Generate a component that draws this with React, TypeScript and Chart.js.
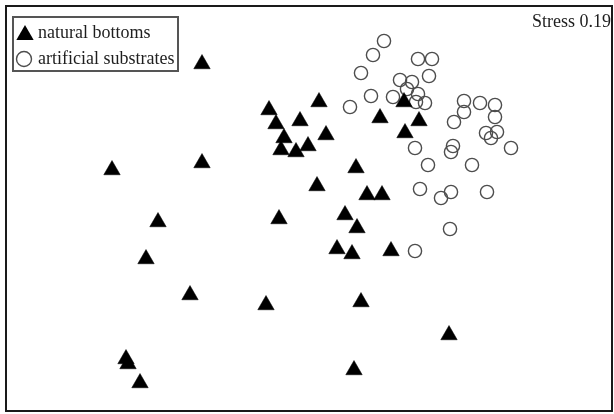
import React, { useEffect, useRef } from 'react';
import { Chart, registerables } from 'chart.js';

Chart.register(...registerables);

// NMDS ordination scores (axis 1 = x, axis 2 = y)
const seriesNames = ['natural bottoms', 'artificial substrates'];
const stressLabel = 'Stress 0.19';

const naturalX = [
  -1.07, 0.10, -0.40, -0.09, -0.33, 0.71, 0.95, 1.10, 0.96, 0.17, -0.25, -0.28,
  -0.13, -0.01, -1.97, -1.07, 0.47, 0.08, 0.58, 0.73, -1.51, -0.30, 0.36, 0.48,
  -1.63, 0.28, 0.43, 0.82, -1.19, -0.43, 0.52, 1.40, -1.83, -1.81, -1.69, 0.45,
];
const naturalY = [
  1.44, 1.06, 0.98, 0.87, 0.84, 0.90, 1.06, 0.87, 0.75, 0.73, 0.70, 0.58,
  0.56, 0.62, 0.38, 0.45, 0.40, 0.22, 0.13, 0.13, -0.14, -0.11, -0.07, -0.20,
  -0.51, -0.41, -0.46, -0.43, -0.87, -0.97, -0.94, -1.27, -1.51, -1.56, -1.75, -1.62,
];

const artificialX = [
  0.75, 0.64, 0.52, 1.09, 1.23, 1.20, 0.91, 1.03, 0.98, 0.62, 0.84, 0.41,
  1.09, 1.07, 1.16, 1.55, 1.71, 1.86, 1.55, 1.45, 1.86, 1.77, 1.88, 1.82,
  2.02, 1.06, 1.44, 1.42, 1.19, 1.63, 1.11, 1.32, 1.42, 1.78, 1.41, 1.06,
];
const artificialY = [
  1.67, 1.53, 1.35, 1.49, 1.49, 1.32, 1.28, 1.26, 1.19, 1.12, 1.11, 1.01,
  1.14, 1.06, 1.05, 1.07, 1.05, 1.03, 0.96, 0.86, 0.91, 0.75, 0.76, 0.70,
  0.60, 0.60, 0.62, 0.56, 0.43, 0.43, 0.19, 0.10, 0.16, 0.16, -0.21, -0.43,
];

const xRange = [-3.03, 3.03];
const yRange = [-2.03, 2.02];

const FONT = '18px "Liberation Serif", "DejaVu Serif", serif';
const TEXT_COLOR = '#1e1e1e';
const CIRCLE_COLOR = '#4d4d4d';

function toPoints(xs: number[], ys: number[]) {
  return xs.map((x, i) => ({ x, y: ys[i] }));
}

function drawTriangle(ctx: CanvasRenderingContext2D, cx: number, cy: number, r: number) {
  ctx.beginPath();
  for (let k = 0; k < 3; k++) {
    const a = (k * 2 * Math.PI) / 3;
    const px = cx + Math.sin(a) * r;
    const py = cy - Math.cos(a) * r;
    if (k === 0) ctx.moveTo(px, py);
    else ctx.lineTo(px, py);
  }
  ctx.closePath();
  ctx.fillStyle = '#000';
  ctx.fill();
}

const decorPlugin = {
  id: 'nmdsDecor',
  afterDatasetsDraw(chart: any) {
    const { ctx, chartArea } = chart;
    ctx.save();
    // frame
    ctx.strokeStyle = '#1a1a1a';
    ctx.lineWidth = 2;
    ctx.strokeRect(chartArea.left, chartArea.top, chartArea.right - chartArea.left, chartArea.bottom - chartArea.top);

    // stress label
    ctx.font = FONT;
    ctx.fillStyle = TEXT_COLOR;
    ctx.textAlign = 'right';
    ctx.textBaseline = 'middle';
    ctx.fillText(stressLabel, chartArea.right - 1, chartArea.top + 16);

    // legend box
    const bx = chartArea.left + 7;
    const by = chartArea.top + 11;
    const bw = 165;
    const bh = 54;
    ctx.fillStyle = '#fff';
    ctx.fillRect(bx, by, bw, bh);
    ctx.strokeStyle = '#555';
    ctx.lineWidth = 2;
    ctx.strokeRect(bx, by, bw, bh);

    drawTriangle(ctx, bx + 12, by + 18, 10);
    ctx.beginPath();
    ctx.arc(bx + 11, by + 42, 7.5, 0, Math.PI * 2);
    ctx.strokeStyle = CIRCLE_COLOR;
    ctx.lineWidth = 1.4;
    ctx.stroke();

    ctx.fillStyle = TEXT_COLOR;
    ctx.textAlign = 'left';
    ctx.textBaseline = 'middle';
    ctx.fillText(seriesNames[0], bx + 25, by + 16);
    ctx.fillText(seriesNames[1], bx + 25, by + 42);
    ctx.restore();
  },
};

export default function App() {
  const ref = useRef<HTMLCanvasElement | null>(null);

  useEffect(() => {
    if (!ref.current) return;
    const chart = new Chart(ref.current, {
      type: 'scatter',
      data: {
        datasets: [
          {
            label: seriesNames[0],
            data: toPoints(naturalX, naturalY),
            pointStyle: 'triangle',
            pointRadius: 9.5,
            backgroundColor: '#000',
            borderColor: '#000',
            borderWidth: 0.5,
          },
          {
            label: seriesNames[1],
            data: toPoints(artificialX, artificialY),
            pointStyle: 'circle',
            pointRadius: 6.6,
            backgroundColor: 'rgba(0,0,0,0)',
            borderColor: CIRCLE_COLOR,
            borderWidth: 1.4,
          },
        ],
      },
      options: {
        responsive: false,
        animation: false,
        layout: { autoPadding: false, padding: { left: 6, top: 6, right: 2, bottom: 3 } },
        plugins: {
          legend: { display: false },
          tooltip: { enabled: false },
          title: { display: false },
        },
        events: [],
        scales: {
          x: { type: 'linear', min: xRange[0], max: xRange[1], display: false },
          y: { type: 'linear', min: yRange[0], max: yRange[1], display: false },
        },
      },
      plugins: [decorPlugin],
    });
    return () => chart.destroy();
  }, []);

  return (
    <div style={{ position: 'absolute', left: 0, top: 0, width: 614, height: 414, background: '#fff' }}>
      <canvas ref={ref} width={614} height={414} style={{ display: 'block' }} />
    </div>
  );
}
